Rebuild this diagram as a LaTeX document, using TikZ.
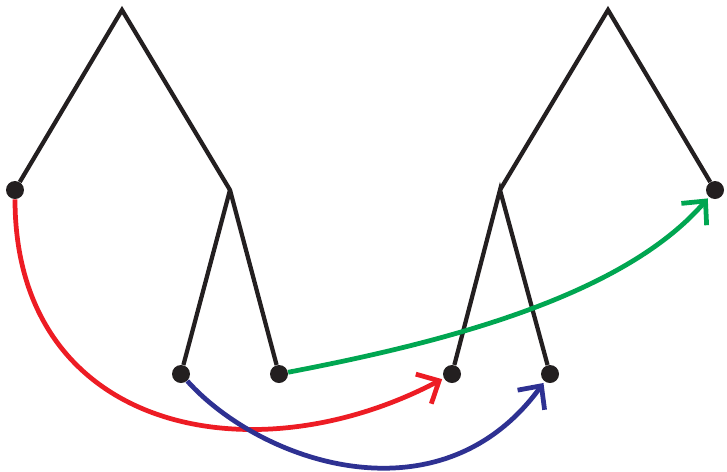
\documentclass[tikz,border=0pt]{standalone}
\usetikzlibrary{arrows.meta}
\definecolor{ink}{HTML}{231F20}
\definecolor{myred}{HTML}{ED1C24}
\definecolor{myblue}{HTML}{2E3192}
\definecolor{mygreen}{HTML}{00A651}
\tikzset{
leaf/.style={
  circle,
  fill=ink,
  inner sep=0pt,
  minimum size=0.36cm
  },
branch/.style={
  ink,
  line width=0.085cm,
  line join=miter
  },
move/.style={
  #1,
  line width=0.095cm,
  -{Straight Barb[length=10pt,width=19pt,line width=0.095cm]},
  shorten >=1pt
  }
}

\begin{document}
\begin{tikzpicture}[x=0.02cm,y=-0.02cm]

\useasboundingbox (0,0) rectangle (727,471);

% left tree
\coordinate (r1) at (122,10);
\coordinate (n1) at (230,190);
\node[leaf] (a) at (15,190) {};
\node[leaf] (b) at (181,374) {};
\node[leaf] (c) at (279,374) {};

% right tree
\coordinate (r2) at (608,10);
\coordinate (n2) at (500,190);
\node[leaf] (d) at (715,190) {};
\node[leaf] (e) at (452,374) {};
\node[leaf] (f) at (550,374) {};

\draw[branch] (a) -- (r1) -- (n1) -- (c);
\draw[branch] (n1) -- (b);
\draw[branch] (n2) -- (r2) -- (d);
\draw[branch] (e) -- (n2) -- (f);

% moves
\draw[move=myred] (a) .. controls (15,430) and (250,480) .. (e);
\draw[move=myblue] (b) .. controls (260,462) and (440,525) .. (f);
\draw[move=mygreen] (c) .. controls (430,345) and (620,300) .. (d);

\end{tikzpicture}
\end{document}
